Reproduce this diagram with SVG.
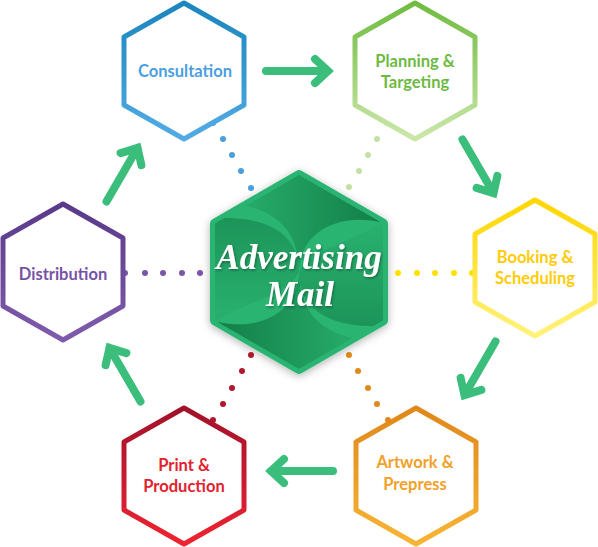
<svg xmlns="http://www.w3.org/2000/svg" width="598" height="547" viewBox="0 0 598 547">
<defs>
  <linearGradient id="gBlue" x1="0" y1="0" x2="0" y2="1"><stop offset="0" stop-color="#1b86bd"/><stop offset="1" stop-color="#51abe4"/></linearGradient>
  <linearGradient id="gGreen" x1="0" y1="0" x2="0" y2="1"><stop offset="0" stop-color="#6fbc40"/><stop offset="1" stop-color="#cbe7aa"/></linearGradient>
  <linearGradient id="gYellow" x1="0" y1="0" x2="0" y2="1"><stop offset="0" stop-color="#ffd600"/><stop offset="1" stop-color="#fff27c"/></linearGradient>
  <linearGradient id="gPurple" x1="0" y1="0" x2="0" y2="1"><stop offset="0" stop-color="#5a398a"/><stop offset="1" stop-color="#7f5cab"/></linearGradient>
  <linearGradient id="gRed" x1="0" y1="0" x2="0" y2="1"><stop offset="0" stop-color="#a1122b"/><stop offset="1" stop-color="#ee2431"/></linearGradient>
  <linearGradient id="gOrange" x1="0" y1="0" x2="0" y2="1"><stop offset="0" stop-color="#df881b"/><stop offset="1" stop-color="#f8b434"/></linearGradient>
  <linearGradient id="gTop" gradientUnits="userSpaceOnUse" x1="230" y1="0" x2="375" y2="0"><stop offset="0" stop-color="#138048" stop-opacity="0.1"/><stop offset="1" stop-color="#117a44" stop-opacity="0.9"/></linearGradient>
  <linearGradient id="gBot" gradientUnits="userSpaceOnUse" x1="368" y1="0" x2="223" y2="0"><stop offset="0" stop-color="#138048" stop-opacity="0.1"/><stop offset="1" stop-color="#117a44" stop-opacity="0.9"/></linearGradient>
  <linearGradient id="gLeft" gradientUnits="userSpaceOnUse" x1="0" y1="215" x2="0" y2="330"><stop offset="0" stop-color="#117a44" stop-opacity="0.8"/><stop offset="1" stop-color="#138048" stop-opacity="0.05"/></linearGradient>
  <linearGradient id="gRight" gradientUnits="userSpaceOnUse" x1="0" y1="329" x2="0" y2="214"><stop offset="0" stop-color="#117a44" stop-opacity="0.8"/><stop offset="1" stop-color="#138048" stop-opacity="0.05"/></linearGradient>
  <path id="hex" d="M0,-68 L60,-34 L60,34 L0,68 L-60,34 L-60,-34 Z"/>
  <path id="bighex" d="M0,-97 L84,-48.5 L84,48.5 L0,97 L-84,48.5 L-84,-48.5 Z"/>
  <clipPath id="clipBig"><use href="#bighex" transform="translate(299,272)" stroke="#000" stroke-width="10" stroke-linejoin="round"/></clipPath>
  <g id="arrow">
    <path d="M-33,0 L29,0 M16,-12 L29,0 L16,12" fill="none" stroke="#3bbd7c" stroke-width="8" stroke-linecap="round" stroke-linejoin="miter"/>
  </g>
  <filter id="shadow" x="-20%" y="-20%" width="140%" height="140%">
    <feDropShadow dx="0" dy="2" stdDeviation="4" flood-color="#000" flood-opacity="0.3"/>
  </filter>
  <filter id="tshadow" x="-10%" y="-20%" width="120%" height="140%">
    <feDropShadow dx="1" dy="1.5" stdDeviation="1.2" flood-color="#0a4a2a" flood-opacity="0.6"/>
  </filter>
  <style>
    .hx { fill: #ffffff; stroke-width: 5; stroke-linejoin: round; }
    .lbl { font-family: Lato, "Open Sans", sans-serif; font-weight: 700; font-size: 16.5px; text-anchor: middle; }
    .script { font-family: "Liberation Serif", "DejaVu Serif", serif; font-style: italic; font-weight: 700; fill: #ffffff; text-anchor: middle; }
  </style>
</defs>

<g id="connectors">
  <g id="dots-consultation" fill="#4a9fe0">
    <circle cx="213" cy="123" r="3"/><circle cx="223" cy="139" r="3"/><circle cx="232" cy="155" r="3"/><circle cx="241" cy="171" r="3"/><circle cx="251" cy="188" r="3"/>
  </g>
  <g id="dots-planning" fill="#c3e1a2">
    <circle cx="387" cy="123" r="3"/><circle cx="377" cy="139" r="3"/><circle cx="368" cy="155" r="3"/><circle cx="359" cy="171" r="3"/><circle cx="349" cy="187" r="3"/>
  </g>
  <g id="dots-booking" fill="#ffe100">
    <circle cx="398" cy="273" r="3"/><circle cx="417" cy="273" r="3"/><circle cx="435" cy="273" r="3"/><circle cx="454" cy="273" r="3"/><circle cx="472" cy="273" r="3"/>
  </g>
  <g id="dots-distribution" fill="#7a55a8">
    <circle cx="125" cy="273" r="3"/><circle cx="145" cy="273" r="3"/><circle cx="163" cy="273" r="3"/><circle cx="182" cy="273" r="3"/><circle cx="200" cy="273" r="3"/>
  </g>
  <g id="dots-print" fill="#b0182f">
    <circle cx="251" cy="355" r="3"/><circle cx="242" cy="371" r="3"/><circle cx="232" cy="388" r="3"/><circle cx="223" cy="404" r="3"/><circle cx="213" cy="420" r="3"/>
  </g>
  <g id="dots-artwork" fill="#e08a1c">
    <circle cx="349" cy="355" r="3"/><circle cx="358" cy="371" r="3"/><circle cx="368" cy="388" r="3"/><circle cx="377" cy="404" r="3"/><circle cx="388" cy="420" r="3"/>
  </g>
  <use href="#arrow" transform="translate(299,71)"/>
  <use href="#arrow" transform="translate(479,168) rotate(60)"/>
  <use href="#arrow" transform="translate(479,370) rotate(120)"/>
  <use href="#arrow" transform="translate(300,471) rotate(180)"/>
  <use href="#arrow" transform="translate(124,373) rotate(240)"/>
  <use href="#arrow" transform="translate(123,173) rotate(300)"/>
</g>

<g id="consultation">
  <use href="#hex" class="hx" stroke="url(#gBlue)" transform="translate(184,71)"/>
  <text class="lbl" x="185" y="77" fill="#4a9fe0">Consultation</text>
</g>
<g id="planning">
  <use href="#hex" class="hx" stroke="url(#gGreen)" transform="translate(415,71)"/>
  <text class="lbl" x="415" y="67" fill="#6dba43">Planning &amp;</text>
  <text class="lbl" x="415" y="88" fill="#6dba43">Targeting</text>
</g>
<g id="booking">
  <use href="#hex" class="hx" stroke="url(#gYellow)" transform="translate(535,268)"/>
  <text class="lbl" x="535" y="263" fill="#ffcb05">Booking &amp;</text>
  <text class="lbl" x="535" y="284" fill="#ffcb05">Scheduling</text>
</g>
<g id="distribution">
  <use href="#hex" class="hx" stroke="url(#gPurple)" transform="translate(63,272)"/>
  <text class="lbl" x="63" y="280" fill="#7653a6">Distribution</text>
</g>
<g id="print">
  <use href="#hex" class="hx" stroke="url(#gRed)" transform="translate(184,476)"/>
  <text class="lbl" x="184" y="471" fill="#e2222e">Print &amp;</text>
  <text class="lbl" x="184" y="492" fill="#e2222e">Production</text>
</g>
<g id="artwork">
  <use href="#hex" class="hx" stroke="url(#gOrange)" transform="translate(416,476)"/>
  <text class="lbl" x="415" y="468" fill="#f2a128">Artwork &amp;</text>
  <text class="lbl" x="415" y="490" fill="#f2a128">Prepress</text>
</g>

<g id="center">
  <use href="#bighex" transform="translate(299,272)" fill="#2bb472" stroke="#2bb472" stroke-width="10" stroke-linejoin="round" filter="url(#shadow)"/>
  <g clip-path="url(#clipBig)">
    <path d="M299,272 C299,235 280,212 240,205 L240,160 L380,160 L380,222 C335,212 299,235 299,272 Z" fill="url(#gTop)"/>
    <path d="M299,272 C299,309 318,332 358,339 L358,385 L218,385 L218,322 C263,332 299,309 299,272 Z" fill="url(#gBot)"/>
    <path d="M299,272 C299,235 270,215 210,218 L205,218 L205,330 C240,300 285,300 299,272 Z" fill="url(#gLeft)" opacity="0.7"/>
    <path d="M299,272 C299,309 328,329 388,326 L393,326 L393,214 C358,244 313,244 299,272 Z" fill="url(#gRight)" opacity="0.7"/>
  </g>
  <text class="script" x="299" y="269" font-size="35" filter="url(#tshadow)">Advertising</text>
  <text class="script" x="300" y="306" font-size="35" filter="url(#tshadow)">Mail</text>
</g>
</svg>
